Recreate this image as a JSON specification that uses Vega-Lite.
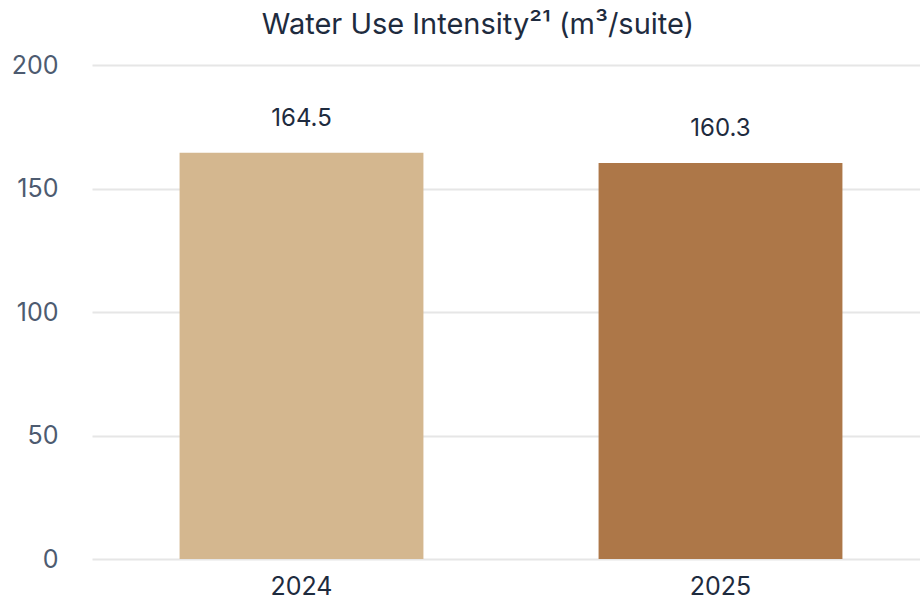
{
  "$schema": "https://vega.github.io/schema/vega-lite/v6.json",
  "autosize": "none",
  "width": 838,
  "height": 494,
  "padding": {"left": 92, "top": 65, "right": 0, "bottom": 41},
  "background": "#ffffff",
  "title": {
    "text": "Water Use Intensity²¹ (m³/suite)",
    "font": "Inter",
    "fontSize": 29,
    "fontWeight": 400,
    "color": "#1e2b3e",
    "anchor": "middle",
    "dx": -33,
    "baseline": "alphabetic",
    "offset": -10
  },
  "data": {
    "values": [
      {"year": "2024", "intensity": 164.5},
      {"year": "2025", "intensity": 160.3}
    ]
  },
  "encoding": {
    "x": {
      "field": "year",
      "type": "nominal",
      "scale": {"paddingInner": 0.418, "paddingOuter": 0.209},
      "axis": {
        "title": null,
        "labelAngle": 0,
        "domain": false,
        "ticks": false,
        "labelFont": "Inter",
        "labelFontSize": 25,
        "labelColor": "#1e2b3e",
        "labelBaseline": "alphabetic",
        "labelPadding": 35
      }
    },
    "y": {
      "field": "intensity",
      "type": "quantitative",
      "scale": {"domain": [0, 200]},
      "axis": {
        "title": null,
        "values": [0, 50, 100, 150, 200],
        "domain": false,
        "ticks": false,
        "labelFont": "Inter",
        "labelFontSize": 25,
        "labelColor": "#4d5b70",
        "labelPadding": 34,
        "gridColor": "#e6e6e6",
        "gridWidth": 2
      }
    }
  },
  "layer": [
    {
      "mark": {"type": "bar"},
      "encoding": {
        "color": {
          "field": "year",
          "type": "nominal",
          "scale": {"domain": ["2024", "2025"], "range": ["#d4b78f", "#ad7748"]},
          "legend": null
        }
      }
    },
    {
      "mark": {
        "type": "text",
        "baseline": "alphabetic",
        "dy": -27,
        "font": "Inter",
        "fontSize": 24,
        "color": "#1e2b3e"
      },
      "encoding": {
        "text": {"field": "intensity", "type": "quantitative", "format": ".1f"}
      }
    }
  ],
  "config": {
    "view": {"stroke": null}
  }
}
